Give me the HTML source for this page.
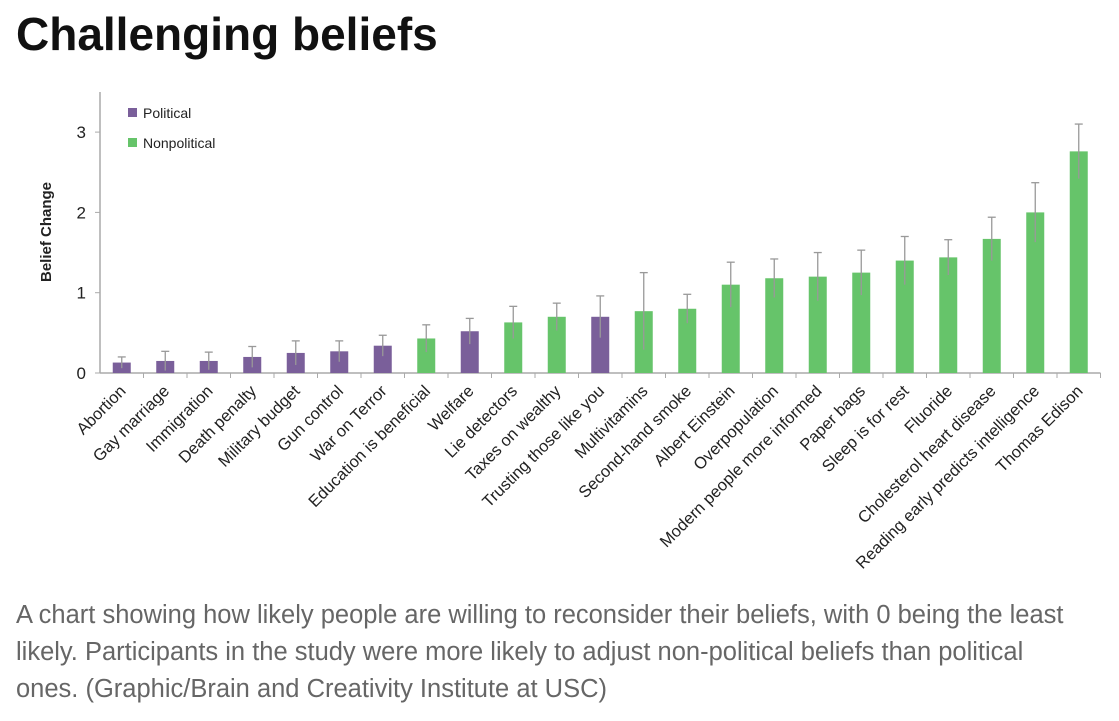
<!DOCTYPE html>
<html><head><meta charset="utf-8"><style>
body{margin:0;width:1119px;height:721px;background:#fff;overflow:hidden;font-family:"Liberation Sans",sans-serif;}
h1{position:absolute;left:16px;top:7px;margin:0;font-size:46px;font-weight:bold;color:#111}
p{position:absolute;left:16px;top:597px;margin:0;width:1075px;font-size:25.5px;line-height:37px;color:#666}
svg{position:absolute;left:0;top:0}
</style></head><body>
<h1>Challenging beliefs</h1>
<svg id="c" width="1119" height="600"></svg>
<p>A chart showing how likely people are willing to reconsider their beliefs, with 0 being the least likely. Participants in the study were more likely to adjust non-political beliefs than political ones. (Graphic/Brain and Creativity Institute at USC)</p>
<script>
const categories=["Abortion","Gay marriage","Immigration","Death penalty","Military budget","Gun control","War on Terror","Education is beneficial","Welfare","Lie detectors","Taxes on wealthy","Trusting those like you","Multivitamins","Second-hand smoke","Albert Einstein","Overpopulation","Modern people more informed","Paper bags","Sleep is for rest","Fluoride","Cholesterol heart disease","Reading early predicts intelligence","Thomas Edison"];
const values=[0.13,0.15,0.15,0.2,0.25,0.27,0.34,0.43,0.52,0.63,0.7,0.7,0.77,0.8,1.1,1.18,1.2,1.25,1.4,1.44,1.67,2.0,2.76];
const errors=[0.07,0.12,0.11,0.13,0.15,0.13,0.13,0.17,0.16,0.2,0.17,0.26,0.48,0.18,0.28,0.24,0.3,0.28,0.3,0.22,0.27,0.37,0.34];
const political=[1,1,1,1,1,1,1,0,1,0,0,1,0,0,0,0,0,0,0,0,0,0,0];
const yTicks=[0,1,2,3];
const svg=document.getElementById('c');const NS='http://www.w3.org/2000/svg';
const X0=100,STEP=43.5,Y0=373,PX=80.3;
const xs=i=>X0+STEP*(i+0.5);const ys=v=>Y0-v*PX;
function mk(t,a,p){const e=document.createElementNS(NS,t);for(const k in a)e.setAttribute(k,a[k]);(p||svg).appendChild(e);return e;}
const COL=['#66c46a','#7a5f9a'];
let ax=mk('line',{x1:X0,y1:92,x2:X0,y2:Y0,stroke:'#aaa','stroke-width':1.5});


let bx=mk('line',{x1:X0,y1:Y0,x2:X0+STEP*categories.length,y2:Y0,stroke:'#aaa','stroke-width':1.5});


yTicks.forEach(v=>{
 mk('line',{x1:X0-5,y1:ys(v),x2:X0,y2:ys(v),stroke:'#aaa'});
 const t=mk('text',{x:X0-14,y:ys(v)+6,'text-anchor':'end','font-size':17,fill:'#222'});t.textContent=v;
 
 
});
const yt=mk('text',{transform:'translate(51,232) rotate(-90)','text-anchor':'middle','font-size':15,'font-weight':'bold',fill:'#222'});yt.textContent='Belief Change';


categories.forEach((c,i)=>{
 mk('line',{x1:X0+STEP*(i+1),y1:Y0,x2:X0+STEP*(i+1),y2:Y0+5,stroke:'#aaa'});
 const cx=xs(i),v=values[i],e=errors[i];
 const b=mk('rect',{x:cx-9,y:ys(v),width:18,height:Y0-ys(v),fill:COL[political[i]]});
 
 
 mk('line',{x1:cx,y1:ys(v+e),x2:cx,y2:ys(Math.max(0,v-e)),stroke:'#999','stroke-width':1.3});
 mk('line',{x1:cx-4,y1:ys(v+e),x2:cx+4,y2:ys(v+e),stroke:'#999','stroke-width':1.3});
 const t=mk('text',{transform:`translate(${cx+5},${Y0+19}) rotate(-45)`,'text-anchor':'end','font-size':16.5,fill:'#222'});t.textContent=c;
 
 
});
[['Political',1,113],['Nonpolitical',0,143]].forEach(([n,p,y])=>{
 const g=mk('g',{});
 
 
 mk('rect',{x:128,y:y-5,width:9,height:9,fill:COL[p]},g);
 const t=mk('text',{x:143,y:y+5,'font-size':14,fill:'#222'},g);t.textContent=n;
});
</script>
</body></html>
